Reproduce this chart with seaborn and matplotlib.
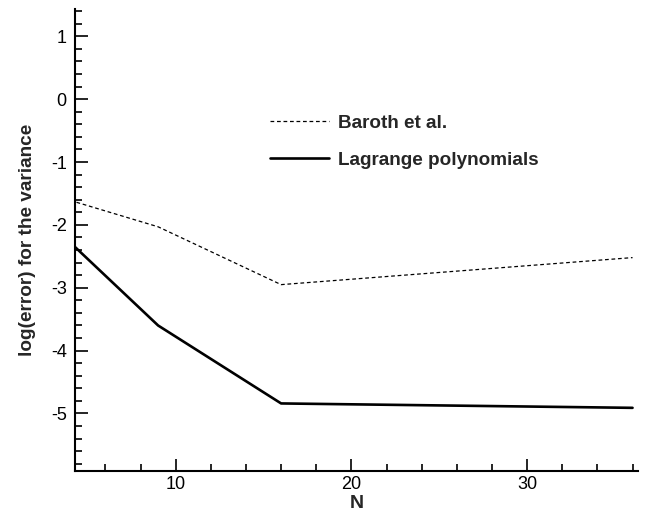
import numpy as np
import pandas as pd
import matplotlib.pyplot as plt
import seaborn as sns
from matplotlib.ticker import MultipleLocator

# values
N = [4, 9, 16, 36]
baroth = [-1.61, -2.03, -2.95, -2.52]
lagrange = [-2.28, -3.60, -4.84, -4.91]

SERIES = ["Baroth et al.", "Lagrange polynomials"]

df = pd.concat([
    pd.DataFrame({"N": N, "err": baroth, "method": SERIES[0]}),
    pd.DataFrame({"N": N, "err": lagrange, "method": SERIES[1]}),
])

sns.set_style("ticks")
plt.rcParams["font.family"] = ["Liberation Sans", "DejaVu Sans"]
plt.rcParams["axes.unicode_minus"] = False

fig = plt.figure(figsize=(6.45, 5.11), dpi=100)
ax = fig.add_axes([75 / 645, 1 - 470.7 / 511, (638 - 75) / 645, (470.7 - 9.3) / 511])

sns.lineplot(
    data=df, x="N", y="err", hue="method", style="method",
    palette={SERIES[0]: "black", SERIES[1]: "black"},
    dashes={SERIES[0]: (3, 2.2), SERIES[1]: ""},
    size="method", sizes={SERIES[0]: 0.9, SERIES[1]: 1.9},
    ax=ax, legend=False,
)

ax.set_xlim(4.27, 36.31)
ax.set_ylim(-5.91, 1.43)

ax.xaxis.set_major_locator(MultipleLocator(10))
ax.xaxis.set_minor_locator(MultipleLocator(2))
ax.yaxis.set_major_locator(MultipleLocator(1))
ax.yaxis.set_minor_locator(MultipleLocator(0.2))

ax.tick_params(which="both", direction="in", width=1.2, color="black",
               labelsize=13, labelcolor="black")
ax.tick_params(which="major", length=9)
ax.tick_params(which="minor", length=5.3)
ax.tick_params(axis="x", pad=4)
ax.tick_params(axis="y", pad=6)

for side in ["top", "right"]:
    ax.spines[side].set_visible(False)
for side in ["left", "bottom"]:
    ax.spines[side].set_linewidth(1.5)
    ax.spines[side].set_color("black")

ax.set_xlabel("N", fontsize=14, fontweight="bold", labelpad=1)
ax.set_ylabel("log(error) for the variance", fontsize=13.7, fontweight="bold", labelpad=11)

handles = ax.get_lines()
leg = ax.legend(
    handles[:2], SERIES, loc="center left",
    bbox_to_anchor=((270 - 75) / 563, 1 - (141.6 - 9.3) / 461.4),
    frameon=False, handlelength=3.1, handletextpad=0.5,
    labelspacing=1.05, borderpad=0, borderaxespad=0,
    prop={"weight": "bold", "size": 13.6},
)

fig.savefig("out.png", dpi=100)
plt.close(fig)
